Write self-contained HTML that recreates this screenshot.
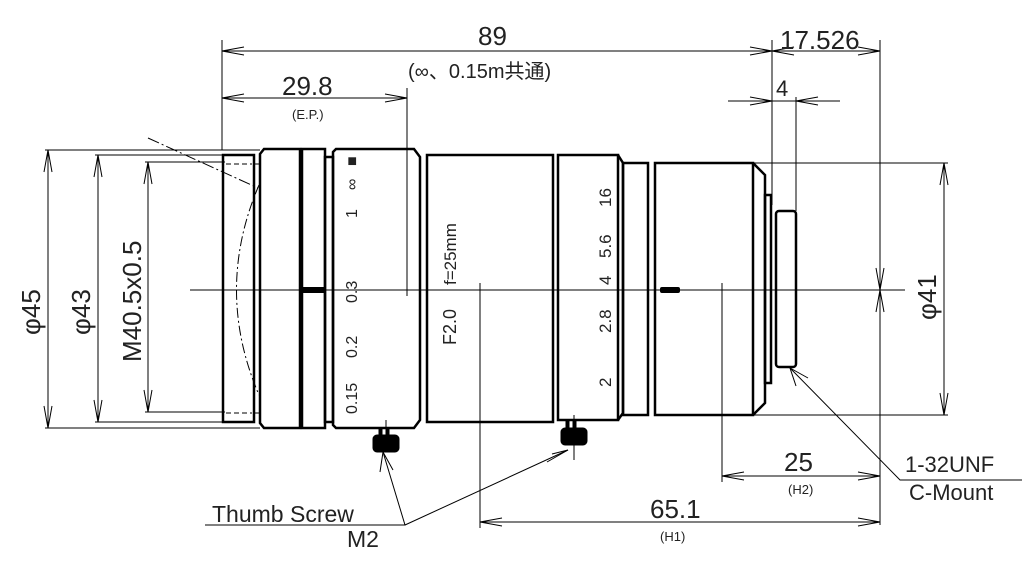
<!DOCTYPE html>
<html><head><meta charset="utf-8"><style>
html,body{margin:0;padding:0;background:#fff;}
svg{display:block;}
text{font-family:"Liberation Sans","Noto Sans CJK JP",sans-serif;fill:#222;}
</style></head><body>
<svg width="1036" height="564" viewBox="0 0 1036 564" xmlns="http://www.w3.org/2000/svg">
<!-- lens body -->
<g stroke="#000" fill="none" stroke-width="2.5">
<rect x="223" y="155" width="31" height="267"/>
<path d="M260,154 L264,149 L300,149 L300,428 L264,428 L260,423 Z"/>
<rect x="302" y="149" width="23" height="279"/>
<rect x="325" y="157" width="8" height="265"/>
<path d="M336,149 L414,149 L420,157 L420,420 L414,428 L336,428 L333,425 L333,152 Z"/>
<rect x="427" y="155" width="126" height="267"/>
<rect x="558" y="155" width="60" height="265"/>
<path d="M618,155 L623,163 L623,413 L618,420"/>
<rect x="623" y="163" width="25" height="252"/>
<rect x="655" y="163" width="98" height="252"/>
<path d="M753,163 L765,175 L765,403 L753,415"/>
<rect x="765" y="195" width="6" height="188"/>
<rect x="776" y="211" width="20" height="156" rx="3"/>
</g>
<g stroke="#000" fill="none" stroke-width="1">
<!-- centerline -->
<line x1="190" y1="290" x2="905" y2="290"/>
<!-- left dims -->
<line x1="45" y1="150" x2="260" y2="150"/><line x1="45" y1="428" x2="260" y2="428"/>
<line x1="95" y1="155" x2="225" y2="155"/><line x1="95" y1="422" x2="225" y2="422"/>
<line x1="145" y1="162" x2="225" y2="162"/><line x1="145" y1="412" x2="225" y2="412"/>
<line x1="48" y1="150" x2="48" y2="428"/><line x1="98" y1="155" x2="98" y2="422"/><line x1="148" y1="162" x2="148" y2="412"/>
<path d="M44,172 L48,150 L52,172 M44,406 L48,428 L52,406"/>
<path d="M94,177 L98,155 L102,177 M94,400 L98,422 L102,400"/>
<path d="M144,184 L148,162 L152,184 M144,390 L148,412 L152,390"/>
<!-- dash-dot diagonal and lens arc -->
<line x1="148" y1="138" x2="258" y2="188" stroke-dasharray="12,3,2,3"/>
<path d="M259,185 Q214,290 259,395" stroke-dasharray="10,3,2,3"/>
<!-- top dims -->
<line x1="222" y1="40" x2="222" y2="150"/>
<line x1="222" y1="51" x2="880" y2="51"/>
<path d="M244,47 L222,51 L244,55 M750,47 L772,51 L750,55 M794,47 L772,51 L794,55 M858,47 L880,51 L858,55"/>
<line x1="772" y1="40" x2="772" y2="205"/>
<line x1="880" y1="40" x2="880" y2="525"/>
<line x1="222" y1="98" x2="407" y2="98"/>
<path d="M244,94 L222,98 L244,102 M385,94 L407,98 L385,102"/>
<line x1="407" y1="88" x2="407" y2="296"/>
<line x1="728" y1="101" x2="840" y2="101"/>
<path d="M750,97 L772,101 L750,105 M818,97 L796,101 L818,105"/>
<line x1="796" y1="97" x2="796" y2="211"/>
<!-- phi41 -->
<line x1="753" y1="163" x2="948" y2="163"/><line x1="753" y1="415" x2="948" y2="415"/>
<line x1="944" y1="163" x2="944" y2="415"/>
<path d="M940,185 L944,163 L948,185 M940,393 L944,415 L948,393"/>
<path d="M876,268 L880,290 L884,268 M876,312 L880,290 L884,312"/>
<!-- bottom dims -->
<line x1="722" y1="283" x2="722" y2="482"/>
<line x1="722" y1="476" x2="880" y2="476"/>
<path d="M744,472 L722,476 L744,480 M858,472 L880,476 L858,480"/>
<line x1="480" y1="283" x2="480" y2="528"/>
<line x1="480" y1="522" x2="880" y2="522"/>
<path d="M502,518 L480,522 L502,526 M858,518 L880,522 L858,526"/>
<!-- leaders -->
<path d="M790,368 L900,480 L1022,480"/>
<path d="M796,386 L790,368 L808,378"/>
<path d="M205,525 L405,525 L383,452 M405,525 L568,450"/>
<path d="M380,472 L383,452 L393,470 M547,462 L568,450 L552,454"/>
<line x1="253" y1="164" x2="260" y2="164"/><line x1="253" y1="413" x2="260" y2="413"/>
<line x1="226" y1="164" x2="252" y2="164" stroke-dasharray="5,3"/>
<line x1="226" y1="413" x2="252" y2="413" stroke-dasharray="5,3"/>
<line x1="386" y1="420" x2="386" y2="445"/>
<line x1="574" y1="415" x2="574" y2="460"/>
</g>
<!-- index marks -->
<rect x="302" y="287" width="22" height="6" fill="#000"/>
<rect x="660" y="287" width="20" height="6" rx="2" fill="#000"/>
<!-- thumb screws -->
<g fill="#000" stroke="#000">
<rect x="379" y="428" width="3" height="8"/><rect x="386" y="428" width="3" height="8"/>
<rect x="373" y="435" width="26" height="17" rx="4"/>
<rect x="566" y="420" width="3" height="8"/><rect x="573" y="420" width="3" height="8"/>
<rect x="561" y="428" width="26" height="17" rx="4"/>
</g>
<!-- ring scale texts -->
<g font-size="16">
<text transform="translate(357,414) rotate(-90)">0.15</text>
<text transform="translate(357,358) rotate(-90)">0.2</text>
<text transform="translate(357,303) rotate(-90)">0.3</text>
<text transform="translate(357,218) rotate(-90)">1</text>
<text transform="translate(357,190) rotate(-90)">∞</text>
<text transform="translate(357,166) rotate(-90)">■</text>
<text font-size="18" transform="translate(456,345) rotate(-90)">F2.0</text>
<text font-size="17" transform="translate(456,285) rotate(-90)">f=25mm</text>
<text font-size="17" transform="translate(611,387) rotate(-90)">2</text>
<text font-size="17" transform="translate(611,333) rotate(-90)">2.8</text>
<text font-size="17" transform="translate(611,285) rotate(-90)">4</text>
<text font-size="17" transform="translate(611,258) rotate(-90)">5.6</text>
<text font-size="17" transform="translate(611,207) rotate(-90)">16</text>
</g>
<!-- dim texts -->
<g font-size="26">
<text x="478" y="45">89</text>
<text x="408" y="78" font-size="20">(∞、0.15m共通)</text>
<text x="282" y="95">29.8</text>
<text x="292" y="119" font-size="13">(E.P.)</text>
<text x="780" y="49">17.526</text>
<text x="776" y="96" font-size="22">4</text>
<text transform="translate(40,335) rotate(-90)">φ45</text>
<text transform="translate(90,335) rotate(-90)">φ43</text>
<text transform="translate(141,362) rotate(-90)">M40.5x0.5</text>
<text transform="translate(936,320) rotate(-90)">φ41</text>
<text x="784" y="471">25</text>
<text x="788" y="494" font-size="13">(H2)</text>
<text x="650" y="518">65.1</text>
<text x="660" y="541" font-size="13">(H1)</text>
<text x="905" y="472" font-size="22">1-32UNF</text>
<text x="909" y="500" font-size="22">C-Mount</text>
<text x="212" y="522" font-size="23">Thumb Screw</text>
<text x="347" y="547" font-size="23">M2</text>
</g>
</svg>
</body></html>
